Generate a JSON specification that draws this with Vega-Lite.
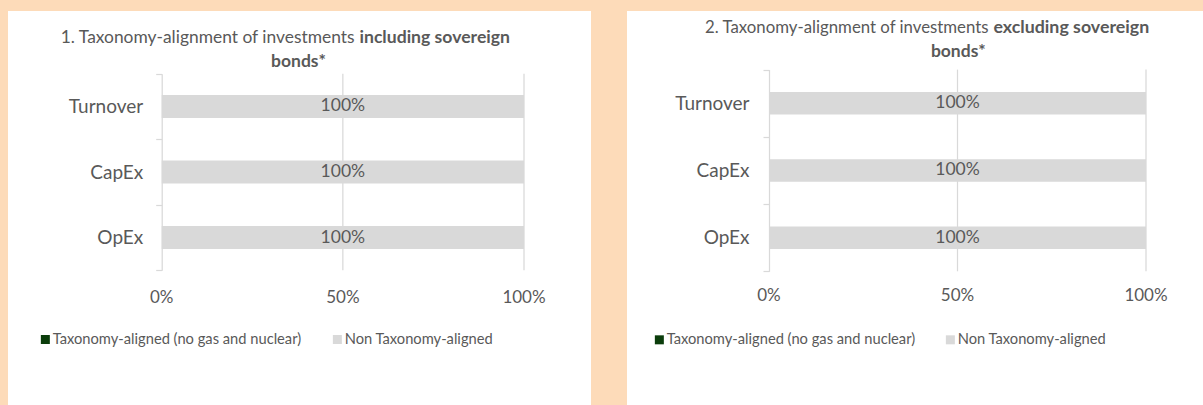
{
  "$schema": "https://vega.github.io/schema/vega-lite/v6.json",
  "background": "#FDDBB9",
  "padding": {"left": 8, "top": 2, "right": 0, "bottom": 0},
  "spacing": 36,
  "config": {
    "view": {"stroke": null, "fill": "#FFFFFF"},
    "font": "Lato",
    "axis": {"labelFont": "Lato", "titleFont": "Lato", "labelColor": "#595959", "titleColor": "#595959", "grid": false},
    "legend": {"labelFont": "Lato", "labelLimit": 0},
    "text": {"font": "Lato"}
  },
  "resolve": {"scale": {"color": "independent"}, "legend": {"color": "independent"}},
  "hconcat": [
    {
      "width": 583,
      "height": 395,
      "data": {"values": [
        {"category": "Turnover", "series": "Taxonomy-aligned (no gas and nuclear)", "value": 0},
        {"category": "Turnover", "series": "Non Taxonomy-aligned", "value": 1},
        {"category": "CapEx", "series": "Taxonomy-aligned (no gas and nuclear)", "value": 0},
        {"category": "CapEx", "series": "Non Taxonomy-aligned", "value": 1},
        {"category": "OpEx", "series": "Taxonomy-aligned (no gas and nuclear)", "value": 0},
        {"category": "OpEx", "series": "Non Taxonomy-aligned", "value": 1}
      ]},
      "resolve": {"scale": {"y": "independent"}},
      "layer": [
        {
          "data": {"values": [{"g": 0.5}, {"g": 1}]},
          "mark": {"type": "rule", "color": "#D9D9D9", "strokeWidth": 1.25},
          "encoding": {
            "x": {"field": "g", "type": "quantitative", "scale": {"domain": [0, 1], "range": [153.7, 516], "nice": false, "zero": false}, "axis": null},
            "y": {"datum": 0, "type": "quantitative", "scale": {"domain": [0, 1], "range": [62.7, 259.3], "nice": false, "zero": false},
              "axis": {"orient": "right", "domain": false, "ticks": false, "labels": false, "grid": false, "title": "bonds*", "titleX": -293, "titleY": 50, "titleAngle": 0, "titleAlign": "center", "titleBaseline": "middle", "titleFontSize": 17.5, "titleFontWeight": "bold", "titleColor": "#595959"}},
            "y2": {"datum": 1}
          }
        },
        {
          "data": {"values": [{"tick": 0}, {"tick": 0.5}, {"tick": 1}]},
          "mark": {"type": "text", "fontSize": 17, "color": "#595959", "align": "center", "baseline": "middle"},
          "encoding": {
            "x": {"field": "tick", "type": "quantitative", "scale": {"domain": [0, 1], "range": [153.7, 516], "nice": false, "zero": false}, "axis": null},
            "y": {"datum": 1.1394, "type": "quantitative", "scale": {"domain": [0, 1], "range": [62.7, 259.3], "nice": false, "zero": false},
              "axis": {"orient": "left", "offset": 0, "domain": false, "ticks": false, "labels": false, "grid": false, "title": "including sovereign", "titleX": 351, "titleY": 26.7, "titleAngle": 0, "titleAlign": "left", "titleBaseline": "middle", "titleFontSize": 17.6, "titleFontWeight": "bold", "titleColor": "#595959"}},
            "text": {"field": "tick", "type": "quantitative", "format": ".0%"}
          }
        },
        {
          "mark": {"type": "bar", "height": {"band": 0.35}},
          "encoding": {
            "y": {"field": "category", "type": "nominal", "sort": ["Turnover", "CapEx", "OpEx"],
              "scale": {"range": [62.7, 259.3], "paddingInner": 0, "paddingOuter": 0},
              "axis": {"orient": "left", "offset": -153.7, "domain": true, "domainColor": "#D9D9D9", "domainWidth": 1.25, "ticks": true, "tickBand": "extent", "tickSize": 6, "tickColor": "#D9D9D9", "tickWidth": 1.25, "labelPadding": 13, "labelFontSize": 19, "labelColor": "#595959", "grid": false,
                "title": "1. Taxonomy-alignment of investments", "titleX": 192.3, "titleY": 26.7, "titleAngle": 0, "titleAlign": "right", "titleBaseline": "middle", "titleFontSize": 17.4, "titleFontWeight": "normal", "titleColor": "#595959"}},
            "x": {"field": "value", "type": "quantitative", "stack": "zero",
              "scale": {"domain": [0, 1], "range": [153.7, 516], "nice": false, "zero": false}, "axis": null},
            "color": {"field": "series", "type": "nominal",
              "scale": {"domain": ["Taxonomy-aligned (no gas and nuclear)", "Non Taxonomy-aligned"], "range": ["#0B3D0B", "#D9D9D9"]},
              "legend": {"orient": "none", "legendX": 30, "legendY": 320.7, "direction": "horizontal", "columns": 2, "title": null, "symbolType": "square", "symbolSize": 81, "symbolStrokeWidth": 0, "labelFontSize": 14.7, "labelColor": "#595959", "labelOffset": 0, "labelLimit": 0, "columnPadding": 28, "padding": 0, "offset": 0}}
          }
        },
        {
          "transform": [{"filter": "datum.series === 'Non Taxonomy-aligned'"}],
          "mark": {"type": "text", "fontSize": 17.5, "color": "#595959", "align": "center", "baseline": "middle"},
          "encoding": {
            "x": {"datum": 0.5, "type": "quantitative", "axis": null},
            "y": {"field": "category", "type": "nominal", "sort": ["Turnover", "CapEx", "OpEx"], "scale": {"range": [62.7, 259.3], "paddingInner": 0, "paddingOuter": 0}, "axis": null},
            "text": {"field": "value", "type": "quantitative", "format": ".0%"}
          }
        }
      ]
    },
    {
      "width": 576,
      "height": 395,
      "data": {"values": [
        {"category": "Turnover", "series": "Taxonomy-aligned (no gas and nuclear)", "value": 0},
        {"category": "Turnover", "series": "Non Taxonomy-aligned", "value": 1},
        {"category": "CapEx", "series": "Taxonomy-aligned (no gas and nuclear)", "value": 0},
        {"category": "CapEx", "series": "Non Taxonomy-aligned", "value": 1},
        {"category": "OpEx", "series": "Taxonomy-aligned (no gas and nuclear)", "value": 0},
        {"category": "OpEx", "series": "Non Taxonomy-aligned", "value": 1}
      ]},
      "resolve": {"scale": {"y": "independent"}},
      "layer": [
        {
          "data": {"values": [{"g": 0.5}, {"g": 1}]},
          "mark": {"type": "rule", "color": "#D9D9D9", "strokeWidth": 1.25},
          "encoding": {
            "x": {"field": "g", "type": "quantitative", "scale": {"domain": [0, 1], "range": [142, 519], "nice": false, "zero": false}, "axis": null},
            "y": {"datum": 0, "type": "quantitative", "scale": {"domain": [0, 1], "range": [58.6, 260.3], "nice": false, "zero": false},
              "axis": {"orient": "right", "domain": false, "ticks": false, "labels": false, "grid": false, "title": "bonds*", "titleX": -245.2, "titleY": 40, "titleAngle": 0, "titleAlign": "center", "titleBaseline": "middle", "titleFontSize": 17.5, "titleFontWeight": "bold", "titleColor": "#595959"}},
            "y2": {"datum": 1}
          }
        },
        {
          "data": {"values": [{"tick": 0}, {"tick": 0.5}, {"tick": 1}]},
          "mark": {"type": "text", "fontSize": 17, "color": "#595959", "align": "center", "baseline": "middle"},
          "encoding": {
            "x": {"field": "tick", "type": "quantitative", "scale": {"domain": [0, 1], "range": [142, 519], "nice": false, "zero": false}, "axis": null},
            "y": {"datum": 1.1225, "type": "quantitative", "scale": {"domain": [0, 1], "range": [58.6, 260.3], "nice": false, "zero": false},
              "axis": {"orient": "left", "offset": 0, "domain": false, "ticks": false, "labels": false, "grid": false, "title": "excluding sovereign", "titleX": 366, "titleY": 16.7, "titleAngle": 0, "titleAlign": "left", "titleBaseline": "middle", "titleFontSize": 17.8, "titleFontWeight": "bold", "titleColor": "#595959"}},
            "text": {"field": "tick", "type": "quantitative", "format": ".0%"}
          }
        },
        {
          "mark": {"type": "bar", "height": {"band": 0.335}},
          "encoding": {
            "y": {"field": "category", "type": "nominal", "sort": ["Turnover", "CapEx", "OpEx"],
              "scale": {"range": [58.6, 260.3], "paddingInner": 0, "paddingOuter": 0},
              "axis": {"orient": "left", "offset": -142, "domain": true, "domainColor": "#D9D9D9", "domainWidth": 1.25, "ticks": true, "tickBand": "extent", "tickSize": 6, "tickColor": "#D9D9D9", "tickWidth": 1.25, "labelPadding": 14, "labelFontSize": 19, "labelColor": "#595959", "grid": false,
                "title": "2. Taxonomy-alignment of investments", "titleX": 219, "titleY": 16.7, "titleAngle": 0, "titleAlign": "right", "titleBaseline": "middle", "titleFontSize": 16.8, "titleFontWeight": "normal", "titleColor": "#595959"}},
            "x": {"field": "value", "type": "quantitative", "stack": "zero",
              "scale": {"domain": [0, 1], "range": [142, 519], "nice": false, "zero": false}, "axis": null},
            "color": {"field": "series", "type": "nominal",
              "scale": {"domain": ["Taxonomy-aligned (no gas and nuclear)", "Non Taxonomy-aligned"], "range": ["#0B3D0B", "#D9D9D9"]},
              "legend": {"orient": "none", "legendX": 25, "legendY": 321, "direction": "horizontal", "columns": 2, "title": null, "symbolType": "square", "symbolSize": 81, "symbolStrokeWidth": 0, "labelFontSize": 14.7, "labelColor": "#595959", "labelOffset": 0, "labelLimit": 0, "columnPadding": 27, "padding": 0, "offset": 0}}
          }
        },
        {
          "transform": [{"filter": "datum.series === 'Non Taxonomy-aligned'"}],
          "mark": {"type": "text", "fontSize": 17.5, "color": "#595959", "align": "center", "baseline": "middle"},
          "encoding": {
            "x": {"datum": 0.5, "type": "quantitative", "axis": null},
            "y": {"field": "category", "type": "nominal", "sort": ["Turnover", "CapEx", "OpEx"], "scale": {"range": [58.6, 260.3], "paddingInner": 0, "paddingOuter": 0}, "axis": null},
            "text": {"field": "value", "type": "quantitative", "format": ".0%"}
          }
        }
      ]
    }
  ]
}
